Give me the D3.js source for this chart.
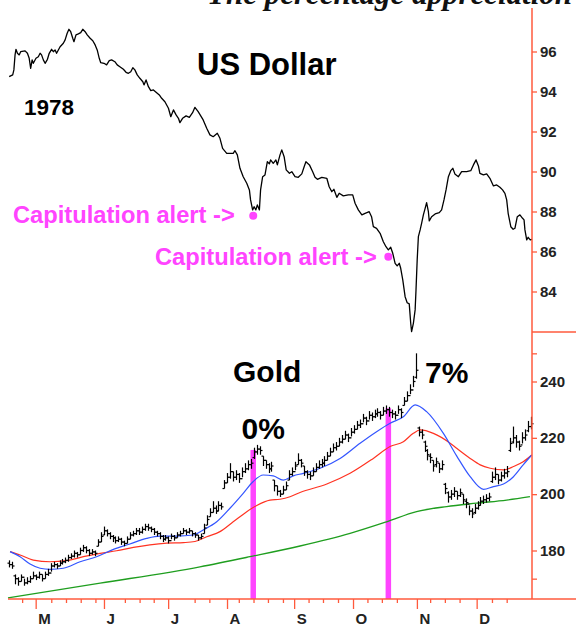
<!DOCTYPE html>
<html>
<head>
<meta charset="utf-8">
<script src="https://cdn.jsdelivr.net/npm/d3@7"></script>
<style>
  body { margin: 0; background: #fff; }
  svg { display: block; font-family: Arial, "Liberation Sans", sans-serif; }
</style>
</head>
<body>
<svg width="576" height="628"></svg>
<script>
// ---- data (x in trading days from mid-April 1978) ----
const monthLabels = ["M", "J", "J", "A", "S", "O", "N", "D"];
const monthDays = [9.4, 32.6, 54.4, 74.4, 97.2, 117.2, 138.9, 159.2];
const weekDays = [4.8, 14.7, 19.7, 24.7, 29.7, 39.7, 44.7, 49.5, 63.4, 68.4, 78.4, 83.4, 88.3, 93.4,
  102.1, 107, 112.1, 122.1, 127, 132.1, 143.4, 148.4, 153.4, 164.4, 169.4];

const usdTicks = [84, 86, 88, 90, 92, 94, 96];
const goldTicks = [170, 180, 200, 220, 240, 250];

const dollarDays = [0.4,1.6,2.0,2.4,2.7,3.2,3.8,4.3,5.8,6.6,7.2,7.7,8.2,8.6,9.5,10.3,10.9,11.4,12.0,12.6,
  13.4,14.0,14.8,15.4,16.0,16.5,17.7,18.8,19.4,20.1,20.7,21.3,22.0,22.4,23.1,23.9,24.7,25.4,26.2,26.9,
  27.9,28.8,29.6,30.3,31.0,31.5,32.6,33.5,34.4,35.2,36.3,37.1,38.0,39.2,40.1,40.9,41.7,42.4,43.1,43.9,
  44.8,45.8,46.2,46.9,47.7,48.5,49.4,50.5,51.4,52.2,53.3,54.5,55.3,56.2,57.1,57.9,58.4,59.3,60.5,61.6,
  62.7,63.5,64.6,66.3,67.5,68.6,69.7,71.1,72.0,72.9,74.3,75.4,76.5,77.1,77.9,78.8,79.9,81.1,82.0,82.4,
  83.1,83.6,84.2,84.7,85.4,85.8,86.5,87.3,88.1,88.8,89.2,90.1,91.0,91.5,92.4,93.0,93.8,94.5,95.6,96.4,
  97.5,98.6,99.8,100.6,101.2,102.4,103.5,104.3,105.1,106.6,108.3,109.1,110.0,110.7,111.7,112.5,113.9,115.6,117.1,117.9,
  119.0,120.2,121.3,122.7,123.5,124.1,125.2,126.4,127.5,128.4,129.2,130.0,130.7,131.5,132.2,132.9,133.4,134.1,134.9,135.6,
  136.3,136.8,137.1,137.7,138.3,138.6,139.0,139.4,140.0,140.5,141.1,141.7,142.2,142.8,143.1,143.9,145.1,146.5,147.3,148.1,
  148.8,149.6,150.4,151.1,151.8,153.0,154.1,155.8,157.2,158.1,159.0,159.8,160.3,161.5,162.6,163.7,164.9,166.0,167.1,168.0,
  168.8,169.4,169.9,170.8,171.6,172.2,173.0,173.9,174.8,175.3,175.6,176.2,176.7,177.4,178.0];
const dollarVals = [94.74,94.83,95.08,95.83,96.11,95.91,95.83,95.99,96.03,95.91,95.66,95.16,95.58,95.41,95.66,95.74,95.91,95.83,95.58,95.41,
  95.61,95.91,96.11,95.99,96.08,95.91,96.24,96.41,96.58,96.91,97.11,96.99,96.66,96.49,96.83,96.88,96.94,97.11,96.99,96.83,
  96.66,96.54,96.33,96.08,95.66,95.44,95.41,95.33,95.54,95.58,95.49,95.33,95.24,95.11,94.96,94.91,94.99,95.19,95.08,94.83,
  94.66,94.49,94.33,94.58,94.24,94.04,94.08,93.94,93.83,93.66,93.49,93.16,92.74,93.08,92.83,92.66,92.44,92.66,92.78,92.71,
  92.94,93.21,92.99,92.58,92.16,91.83,91.74,91.91,91.66,91.16,90.91,90.91,90.91,91.04,90.83,90.16,89.74,89.41,89.08,88.58,
  88.08,88.24,88.08,88.33,88.08,89.08,89.74,89.83,90.49,90.38,90.58,90.41,90.58,90.33,90.83,91.08,90.74,90.08,89.91,89.99,
  89.74,89.71,89.88,90.24,90.49,90.33,89.99,89.71,89.61,89.71,89.66,89.24,88.99,89.11,88.71,88.91,88.78,88.83,88.83,88.41,
  88.08,87.83,87.91,87.99,87.74,87.24,87.16,86.91,86.49,86.24,86.08,86.21,85.91,85.41,85.28,85.41,85.16,84.58,83.74,83.44,
  83.38,82.41,81.99,82.41,83.08,84.08,85.58,86.74,87.08,87.41,87.83,88.16,88.44,87.99,87.53,87.74,87.88,87.94,88.08,88.58,
  89.08,89.74,90.04,90.16,89.88,89.74,89.99,89.99,90.04,90.33,90.58,90.28,89.91,89.83,89.88,89.66,89.28,89.33,89.21,89.08,
  88.91,88.58,87.91,87.24,87.11,87.16,87.74,87.83,87.66,87.58,87.08,86.58,86.71,86.58,86.61];

// gold daily bars, one per trading day 0..177
const goldOpen = [175.5,175,171,170,169,170.5,168.5,169,170,171,170.5,171.5,170,171.5,172,174.5,175,174.5,175.5,176,
  176.5,177.5,178,179,178.5,180,181,180,179,179.5,181.5,183,185.5,187,186,185,184.5,183.5,184,183,
  182.5,184,185.5,186,187,186.5,187.5,188.5,188,187.5,186.5,186,185,184,184.5,183.5,185,184.5,185.5,186,
  187,186.5,187,186,185.5,184.5,186,189,192,193.5,195,194,196,202,204,206,208,206,207,205.5,
  208,209,210.5,213,215,216,213.5,212,210.5,209,205,203,201,200,201.5,205,207,208,210.5,212,
  210,208,207,206.5,208,209.5,210.5,211,212,213.5,215,216.5,217,218.5,219.5,221,220,222,223,224.5,
  225,227,226,228,227.5,228.5,229,228,229.5,230,229,228.5,228,230,231.5,233,235,237,241.5,223.5,
  222,218.5,215.5,213.5,212,210.5,211,209,203.5,200.5,199,200,201,199.5,200,197.5,196.5,194,193.5,195,
  196,197.5,198,198.5,204.5,206,207,205,206.5,207.5,215.5,218.5,220,218.5,217.5,220,222.5,224];
const goldHigh = [176.5,176,171.5,170.5,171.5,170,170.5,171,172.5,171.5,172.5,171.5,172.5,173.5,175.5,176,175.5,176.5,177,177.5,
  178.5,179,180,179.5,181,182,181.5,180.5,180.5,180,184,186.5,188.5,187.5,186.5,185.5,185,185,184.5,183.5,
  185,186.5,187,188,188,188.5,189.5,189.5,188.5,188,187,186.5,185.5,185.5,185,186,185.5,186.5,187,188,
  187.5,188,187,186.5,185.5,186,189.5,192.5,195,197.5,196,197.5,197,205,207.5,211,208,208.5,207.5,209.5,
  211,212,212.5,216.5,217.5,217,213.5,212,211,211.5,205,203,201.5,203,204.5,208.5,209.5,211.5,214.5,212.5,
  210,208.5,208,209.5,211,212,212.5,213.5,215,216.5,218,218.5,220,221,222.5,221.5,223.5,224.5,226,226.5,
  228.5,227.5,229.5,229,230,230.5,229.5,231,231.5,231,230,229.5,231.5,230.5,234.5,236.5,239,242,250,224,
  223,219,216,214.5,212,213,211,212,204,201,201.5,202.5,201,202,200,198.5,196,195,196.5,197.5,
  199,199.5,200,200.5,208,209.5,207,208,209,210,220,224,221,219,222,223,226,227.5];
const goldLow = [174,173.5,168,167.5,169,167.5,168,168.5,170,169.5,170,169,170,171,172.5,174,173.5,174.5,175,175.5,
  176,177,177.5,177.5,178.5,179.5,179,178,178.5,178,181.5,183,185.5,185,184,183,182.5,183,182,181.5,
  182.5,184,185,185.5,185.5,186,187,187,186.5,185.5,185,184,183,183.5,182.5,184,183.5,184.5,185,186,
  185.5,186,185,184.5,183.5,184,186,189,192,193.5,193,194,194.5,202,204,205.5,204.5,205,204,206,
  207.5,208.5,209,212.5,214,214,210,209,207.5,208,201,199.5,199,200,201.5,205,206.5,208.5,210.5,209.5,
  206.5,205.5,205,206.5,208,209,209.5,210,212,213.5,215,215.5,217,218,219.5,218.5,220.5,221.5,223,223.5,
  225.5,224.5,226.5,226,227,227.5,226.5,228,228.5,227.5,227,226.5,228.5,227,231.5,233,235.5,238,241,220.5,
  219.5,215,212,211,208,209.5,207.5,208.5,200,197,198,199,198,199,196.5,195,192.5,191.5,193,194.5,
  196,196.5,197,197.5,204,205,203.5,204.5,205.5,206,215,218,216.5,215.5,218,219,222,223];
const goldClose = [175,174.5,170,169,170.5,168.5,169,170,171,170.5,171.5,170,171.5,172,174.5,175,174.5,175.5,176,176.5,
  177.5,178,179,178.5,180,181,180,179,179.5,179,183,185,187,186,185,184.5,183.5,184,183,182.5,
  184,185.5,186,187,186.5,187.5,188.5,188,187.5,186.5,186,185,184,184.5,183.5,185,184.5,185.5,186,187,
  186.5,187,186,185.5,184.5,185,188,191,193.5,195,194,196,195.5,204,206,208,206,207,205.5,208,
  209,210.5,211,215,216,215.5,212,210.5,209,210,203,201,200,201.5,203,207,208,210,212,211,
  208,207,206.5,208,209.5,210.5,211,212,213.5,215,216.5,217,218.5,219.5,221,220,222,223,224.5,225,
  227,226,228,227.5,228.5,229,228,229.5,230,229,228.5,228,230,229,233,235,237,240,244,222,
  221,217,214,213,210,211.5,209,210.5,202,199,200,201,199.5,200.5,198,197,194,193,195,196,
  197.5,198,198.5,199,206,207,205,206.5,207.5,208,218,220,218.5,217,220,221,224,225];

// moving averages
const blueDays = [0.7,4.1,7.5,10.9,14.3,18.8,24.5,30.1,35.8,41.4,47.1,51.6,57.3,62.9,66.3,70.9,75.4,79.9,83.3,86.7,
  90.1,93.5,96.9,100.3,106.0,112.8,119.6,125.2,129.8,134.3,138.3,142.2,147.9,152.4,157.0,161.5,164.9,168.3,171.7,175.0,177.9];
const blueVals = [179.6,177.8,175.2,173.7,173.3,173.7,176.0,177.8,180.4,182.3,184.3,185.1,185.1,185.5,187.3,190.2,195.0,200.3,204.5,206.8,
  206.5,205.0,206.5,207.4,209.2,212.7,218.1,222.2,225.2,227.5,231.7,229.3,221.6,213.6,206.2,201.7,202.7,203.6,206.2,210.4,213.9];
const redDays = [0.7,4.1,8.6,14.3,19.9,25.6,31.3,36.9,42.6,48.2,53.9,59.6,63.5,67.5,72.0,76.5,81.1,84.5,89.0,92.4,
  95.8,99.2,108.3,116.2,124.1,129.8,134.3,137.7,140.0,144.5,150.2,152.4,157.0,160.4,163.8,168.3,171.7,175.0,177.9];
const redVals = [179.6,178.4,176.6,176.0,176.4,177.8,179.0,179.9,181.1,182.0,182.6,182.8,183.2,184.9,186.7,190.2,193.8,196.0,197.9,198.2,
  199.1,200.6,203.6,207.4,212.7,216.9,218.6,221.6,222.8,221.6,218.1,216.3,212.7,210.4,209.2,208.6,209.8,211.5,213.9];
const greenDays = [0.0,31.3,65.2,82.2,99.2,116.2,128.6,138.8,149.0,159.2,169.4,177.3];
const greenVals = [163.2,168.4,174.2,177.8,181.6,186.1,190.2,193.8,195.6,196.8,197.9,199.1];

// capitulation alerts: day, dollar value, gold value at the pink bar
const alertDays = [83.3, 129.2];
const alertUsd = [87.79, 85.74];
const alertGold = [215.7, 230.5];

// ---- layout ----
const svg = d3.select("svg");
const W = 576, axisX = 532, baseY = 599, dividerY = 332;
const axisColor = "#ff5a3c", pink = "#ff44ff";

const x = d3.scaleLinear().domain([0, 178]).range([8, axisX]);
const yUsd = d3.scaleLinear().domain([84, 96]).range([291.5, 51.5]);
const yGold = d3.scaleLinear().domain([180, 240]).range([550.5, 381.5]);

// headline (cut off at the top edge, as in the source)
svg.append("text")
  .attr("x", 207).attr("y", 4)
  .attr("font-family", "'Liberation Serif', 'Times New Roman', serif")
  .attr("font-style", "italic").attr("font-weight", "bold")
  .attr("font-size", 31).attr("fill", "#111")
  .text("The percentage appreciation");

// pink bars under everything else in the gold panel
svg.append("g").selectAll("rect")
  .data(alertDays).join("rect")
  .attr("x", d => x(d) - 2.75)
  .attr("width", 5.5)
  .attr("y", (d, i) => yGold(alertGold[i]))
  .attr("height", (d, i) => baseY - yGold(alertGold[i]))
  .attr("fill", pink);

// moving averages
const maLine = d3.line().x(d => x(d[0])).y(d => yGold(d[1])).curve(d3.curveMonotoneX);
svg.append("path").attr("d", maLine(d3.zip(greenDays, greenVals)))
  .attr("fill", "none").attr("stroke", "#1f9e1f").attr("stroke-width", 1.3);
svg.append("path").attr("d", maLine(d3.zip(redDays, redVals)))
  .attr("fill", "none").attr("stroke", "#ff3322").attr("stroke-width", 1.2);
svg.append("path").attr("d", maLine(d3.zip(blueDays, blueVals)))
  .attr("fill", "none").attr("stroke", "#3355ff").attr("stroke-width", 1.2);

// gold bars: high-low stem, open tick left, close tick right
const bars = svg.append("g").attr("stroke", "#000").attr("stroke-width", 1.2);
goldClose.forEach((c, i) => {
  const bx = Math.round(x(i + 0.5)) + 0.5;
  bars.append("line").attr("x1", bx).attr("x2", bx)
    .attr("y1", yGold(goldHigh[i])).attr("y2", yGold(goldLow[i]));
  bars.append("line").attr("x1", bx - 2).attr("x2", bx)
    .attr("y1", yGold(goldOpen[i])).attr("y2", yGold(goldOpen[i]));
  bars.append("line").attr("x1", bx).attr("x2", bx + 2)
    .attr("y1", yGold(c)).attr("y2", yGold(c));
});

// dollar line
const usdLine = d3.line().x(d => x(d[0])).y(d => yUsd(d[1]));
svg.append("path").attr("d", usdLine(d3.zip(dollarDays, dollarVals)))
  .attr("fill", "none").attr("stroke", "#000").attr("stroke-width", 1.3)
  .attr("stroke-linejoin", "round");

// capitulation dots and labels
svg.append("g").selectAll("circle")
  .data(alertDays).join("circle")
  .attr("cx", d => x(d)).attr("cy", (d, i) => yUsd(alertUsd[i]))
  .attr("r", 4).attr("fill", pink);
[[13, 223], [155, 265]].forEach(p => {
  svg.append("text").attr("x", p[0]).attr("y", p[1])
    .attr("font-size", 23.7).attr("font-weight", "bold").attr("fill", pink)
    .text("Capitulation alert ->");
});

// titles
const big = (t, px, py, fs) => svg.append("text").attr("x", px).attr("y", py)
  .attr("font-size", fs).attr("font-weight", "bold").attr("fill", "#000").text(t);
big("US Dollar", 197, 75, 31);
big("1978", 24, 115, 22.5);
big("Gold", 233, 382, 30);
big("0%", 241.5, 439, 30);
big("7%", 425, 383, 30);

// axes
function styleAxis(g) {
  g.select(".domain").remove();
  g.selectAll(".tick line").attr("stroke", axisColor).attr("stroke-width", 1.3);
  g.selectAll(".tick text").attr("fill", "#222").attr("font-size", 15)
    .attr("font-weight", "bold").attr("font-family", "Arial, 'Liberation Sans', sans-serif");
}
svg.append("g").attr("transform", `translate(${axisX},0)`)
  .call(d3.axisRight(yUsd).tickValues(usdTicks).tickSize(5).tickPadding(3))
  .call(styleAxis);
svg.append("g").attr("transform", `translate(${axisX},0)`)
  .call(d3.axisRight(yGold).tickValues(goldTicks).tickSize(5).tickPadding(3)
    .tickFormat(d => d % 20 === 0 ? d : ""))
  .call(styleAxis);

svg.append("g").attr("transform", `translate(0,${baseY})`)
  .call(d3.axisBottom(x).tickValues(weekDays).tickSize(4).tickFormat(""))
  .call(styleAxis);
const months = svg.append("g").attr("transform", `translate(0,${baseY})`)
  .call(d3.axisBottom(x).tickValues(monthDays).tickSize(10).tickFormat((d, i) => monthLabels[i]))
  .call(styleAxis);
months.selectAll(".tick text").attr("text-anchor", "start").attr("x", 2).attr("dy", 0).attr("y", 25);

// axis frame lines
svg.append("line").attr("x1", axisX).attr("x2", axisX).attr("y1", 8).attr("y2", baseY)
  .attr("stroke", axisColor).attr("stroke-width", 1.5);
svg.append("line").attr("x1", axisX).attr("x2", W).attr("y1", dividerY).attr("y2", dividerY)
  .attr("stroke", axisColor).attr("stroke-width", 1.5);
svg.append("line").attr("x1", 8).attr("x2", W).attr("y1", baseY).attr("y2", baseY)
  .attr("stroke", axisColor).attr("stroke-width", 1.5);
</script>
</body>
</html>
